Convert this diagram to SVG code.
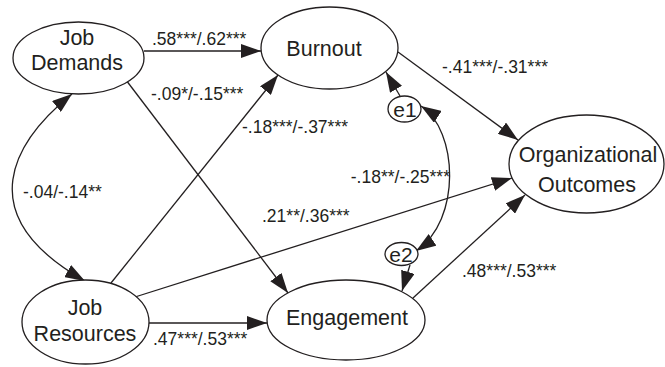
<svg xmlns="http://www.w3.org/2000/svg" width="665" height="367" viewBox="0 0 665 367">
<style>
.node ellipse{fill:#fff;stroke:#231f20;stroke-width:1.3}
.node text{font-family:"Liberation Sans",Arial,sans-serif;font-size:21.5px;fill:#231f20;text-anchor:middle}
.err text{font-size:21px}
.conn path{fill:none;stroke:#231f20;stroke-width:1.3}
.lbl{font-family:"Liberation Sans",Arial,sans-serif;font-size:17.5px;fill:#231f20}
</style>
<defs>
<marker id="ah" markerUnits="userSpaceOnUse" markerWidth="20" markerHeight="14" refX="20" refY="7" orient="auto-start-reverse" viewBox="0 0 20 14">
<path d="M0,0 L20,7 L0,14 z" fill="#231f20"/>
</marker>
</defs>
<rect width="665" height="367" fill="#fff"/>
<g class="conn">
<path d="M144,51 L261,51" marker-end="url(#ah)"/>
<path d="M126,80 L288,293" marker-end="url(#ah)"/>
<path d="M111,283 L278,75" marker-end="url(#ah)"/>
<path d="M149,323 L267,323" marker-end="url(#ah)"/>
<path d="M135,297 L512,178" marker-end="url(#ah)"/>
<path d="M398,52 L518,140" marker-end="url(#ah)"/>
<path d="M413,298 L525,195" marker-end="url(#ah)"/>
<path d="M400,96 L386,72" marker-end="url(#ah)"/>
<path d="M410,265 L402,291" marker-end="url(#ah)"/>
<path d="M421,106 C458,130 462,220 416,251" marker-start="url(#ah)" marker-end="url(#ah)"/>
<path d="M72,94 C15,140 -33,214 85,281" marker-start="url(#ah)" marker-end="url(#ah)"/>
</g>
<g id="job-demands" class="node">
<ellipse cx="78.5" cy="58" rx="65.5" ry="36"/>
<text x="77" y="45">Job</text>
<text x="77" y="70">Demands</text>
</g>
<g id="burnout" class="node">
<ellipse cx="329.5" cy="48" rx="68.5" ry="41"/>
<text x="324" y="56">Burnout</text>
</g>
<g id="org-outcomes" class="node">
<ellipse cx="586.5" cy="164" rx="77.5" ry="49"/>
<text x="588" y="162">Organizational</text>
<text x="587" y="192">Outcomes</text>
</g>
<g id="job-resources" class="node">
<ellipse cx="85.5" cy="322" rx="63.5" ry="42"/>
<text x="85" y="315">Job</text>
<text x="85" y="341">Resources</text>
</g>
<g id="engagement" class="node">
<ellipse cx="346" cy="320" rx="79" ry="40"/>
<text x="347" y="325">Engagement</text>
</g>
<g id="e1" class="node err">
<ellipse cx="404.5" cy="109" rx="16.5" ry="13"/>
<text x="405" y="117">e1</text>
</g>
<g id="e2" class="node err">
<ellipse cx="401.5" cy="254" rx="16.5" ry="11.5"/>
<text x="401" y="262">e2</text>
</g>
<g id="labels">
<text class="lbl" x="152" y="45">.58***/.62***</text>
<text class="lbl" x="151" y="100">-.09*/-.15***</text>
<text class="lbl" x="242" y="133">-.18***/-.37***</text>
<text class="lbl" x="442" y="73">-.41***/-.31***</text>
<text class="lbl" x="450" y="183" text-anchor="end">-.18**/-.25***</text>
<text class="lbl" x="23" y="198">-.04/-.14**</text>
<text class="lbl" x="262" y="222">.21**/.36***</text>
<text class="lbl" x="153" y="345">.47***/.53***</text>
<text class="lbl" x="462" y="277">.48***/.53***</text>
</g>
</svg>
